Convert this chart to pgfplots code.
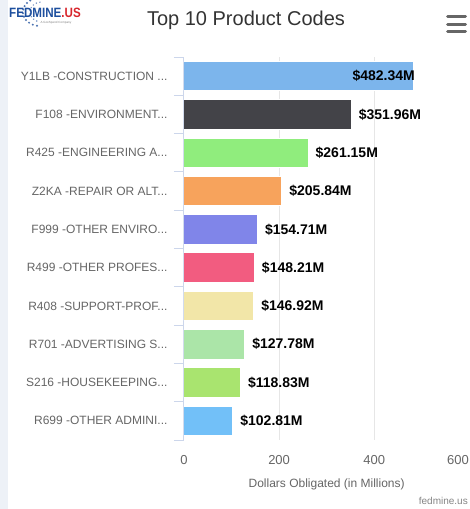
\documentclass[border=0pt]{standalone}
\usepackage{pgfplots}
\pgfplotsset{compat=1.18}
\usepackage{fontspec}
\setmainfont{Liberation Sans}
\newcommand\el{...}
\definecolor{cA}{HTML}{7CB5EC}
\definecolor{cB}{HTML}{434348}
\definecolor{cC}{HTML}{90ED7D}
\definecolor{cD}{HTML}{F7A35C}
\definecolor{cE}{HTML}{8085E9}
\definecolor{cF}{HTML}{F25C80}
\definecolor{cG}{HTML}{F2E6A8}
\definecolor{cH}{HTML}{ABE5A8}
\definecolor{cI}{HTML}{A9E46F}
\definecolor{cJ}{HTML}{72C0F8}
\definecolor{axiscol}{HTML}{CCD6EB}
\definecolor{gridcol}{HTML}{E6E6E6}
\definecolor{labcol}{HTML}{666666}
\definecolor{titlecol}{HTML}{333333}
\definecolor{strip}{HTML}{EDF1F7}
\definecolor{logoblue}{HTML}{1D4F9E}
\definecolor{logored}{HTML}{D8262D}
\begin{document}
\begin{tikzpicture}[x=1pt,y=1pt]
\path[use as bounding box] (0,0) rectangle (470,509);
\fill[white] (0,0) rectangle (470,509);
\fill[strip] (0,0) rectangle (8,509);
% logo
\foreach \a in {95,110,...,260} {\fill[logoblue!80] ({40+17*cos(\a)},{497+14*sin(\a)}) circle (1.1);}
\foreach \a in {100,118,...,250} {\fill[logoblue!60] ({42+12*cos(\a)},{497+10*sin(\a)}) circle (0.8);}
\node[anchor=west, inner sep=0, xscale=0.86, font=\fontsize{13.5}{14}\selectfont\bfseries] at (9,496) {\textcolor{logoblue}{FEDMINE}\textcolor{logored}{.US}};
\node[anchor=center, inner sep=0, font=\fontsize{3}{3}\selectfont, text=gray] at (56,486.5) {A GovSpend Company};
% title
\node[font=\fontsize{20}{22}\selectfont, text=titlecol] at (246,489) {Top 10 Product Codes};
% hamburger
\foreach \yy in {17,24.5,32} {\draw[line width=3pt, color=labcol, line cap=round] (447.5,509-\yy) -- (465.5,509-\yy);}
% credits
\node[anchor=east, inner sep=0, font=\fontsize{10}{12}\selectfont, text=labcol!80] at (468,8) {fedmine.us};
\begin{axis}[
  at={(184pt,69pt)}, anchor=south west, scale only axis,
  width=285.3pt, height=383pt,
  xmin=0, xmax=600, ymin=-0.5, ymax=9.5, y dir=reverse,
  xbar, bar width=29.5pt, bar shift=0pt,
  axis x line*=bottom, axis y line*=left,
  x axis line style={draw=none},
  y axis line style={draw=axiscol, line width=1pt, -},
  xtick={0,200,400},
  extra x ticks={600},
  extra x tick style={grid=none, xticklabel style={anchor=north east, xshift=3pt}},
  ytick={0,1,2,3,4,5,6,7,8,9},
  yticklabels={{Y1LB -CONSTRUCTION \el}, {F108 -ENVIRONMENT\el}, {R425 -ENGINEERING A\el}, {Z2KA -REPAIR OR ALT\el}, {F999 -OTHER ENVIRO\el}, {R499 -OTHER PROFES\el}, {R408 -SUPPORT-PROF\el}, {R701 -ADVERTISING S\el}, {S216 -HOUSEKEEPING\el}, {R699 -OTHER ADMINI\el}},
  minor ytick={-0.5,0.5,1.5,2.5,3.5,4.5,5.5,6.5,7.5,8.5,9.5},
  major tick length=0pt, minor tick length=10pt, tick align=outside,
  minor tick style={draw=axiscol, line width=1pt},
  xmajorgrids, major grid style={draw=gridcol, line width=1pt},
  yticklabel style={font=\fontsize{12}{14}\selectfont, text=labcol, xshift=-13pt},
  xticklabel style={font=\fontsize{13}{15}\selectfont, text=labcol, yshift=-12pt},
  /pgf/number format/assume math mode=true,
  xlabel={Dollars Obligated (in Millions)},
  xlabel style={font=\fontsize{12}{14}\selectfont, text=labcol, at={(axis description cs:0.5,0)}, anchor=center, yshift=-44pt},
  every axis plot/.append style={draw=white, line width=1pt},
  nodes near coords={\$\pgfmathprintnumber[fixed, fixed zerofill, precision=2]{\pgfplotspointmeta}M},
  every node near coord/.append style={font=\fontsize{14}{16}\selectfont\bfseries, text=black, anchor=west, inner sep=0pt, xshift=7pt},
]
\addplot[fill=cA, every node near coord/.append style={anchor=east, xshift=-5pt}] coordinates {(482.34,0)};
\addplot[fill=cB] coordinates {(351.96,1)};
\addplot[fill=cC] coordinates {(261.15,2)};
\addplot[fill=cD] coordinates {(205.84,3)};
\addplot[fill=cE] coordinates {(154.71,4)};
\addplot[fill=cF] coordinates {(148.21,5)};
\addplot[fill=cG] coordinates {(146.92,6)};
\addplot[fill=cH] coordinates {(127.78,7)};
\addplot[fill=cI] coordinates {(118.83,8)};
\addplot[fill=cJ] coordinates {(102.81,9)};
\end{axis}
\end{tikzpicture}
\end{document}
